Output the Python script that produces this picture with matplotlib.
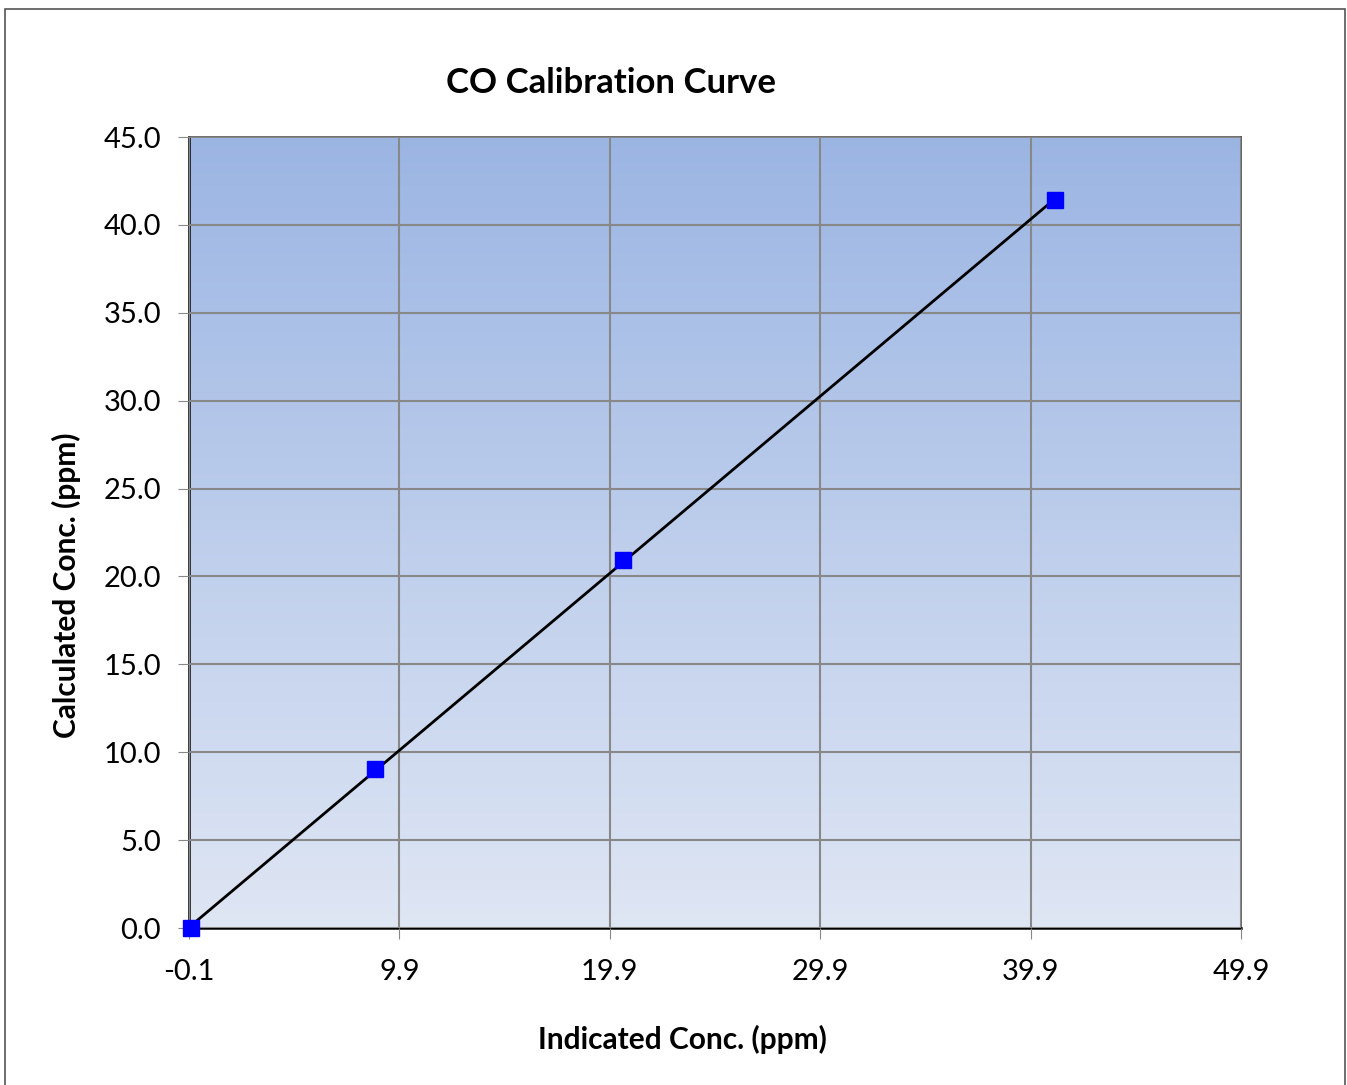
import matplotlib.pyplot as plt
import numpy as np
from matplotlib.colors import LinearSegmentedColormap
from matplotlib.patches import Rectangle

indicated = [0.0, 8.75, 20.55, 41.05]
calculated = [0.0, 9.05, 20.95, 41.4]
x_ticks = [-0.1, 9.9, 19.9, 29.9, 39.9, 49.9]
y_ticks = [0, 5, 10, 15, 20, 25, 30, 35, 40, 45]

plt.rcParams['font.family'] = ['Lato', 'DejaVu Sans']

fig = plt.figure(figsize=(13.47, 10.85), dpi=100)
ax = fig.add_axes([0.1403, 0.1447, 0.781, 0.729])

# outer chart frame
fig.patches.append(Rectangle((5 / 1347, -0.05), 1340 / 1347, 1.05 - 9 / 1085,
                             transform=fig.transFigure, fill=False,
                             edgecolor='#555555', linewidth=1.2))

# gradient fill of plot area
cmap = LinearSegmentedColormap.from_list('bg', ['#dfe6f4', '#9bb5e3'])
grad = np.linspace(0, 1, 256).reshape(-1, 1)
ax.imshow(grad, cmap=cmap, origin='lower', aspect='auto',
          extent=[x_ticks[0], x_ticks[-1], y_ticks[0], y_ticks[-1]], zorder=0)

ax.set_xlim(x_ticks[0], x_ticks[-1])
ax.set_ylim(y_ticks[0], y_ticks[-1])
ax.set_xticks(x_ticks)
ax.set_yticks(y_ticks)
ax.set_xticklabels(['{:.1f}'.format(v) for v in x_ticks])
ax.set_yticklabels(['{:.1f}'.format(v) for v in y_ticks])
ax.grid(True, color='#888888', linewidth=1.5, zorder=1)
ax.set_axisbelow(False)
ax.tick_params(labelsize=21, length=8, color='#888888')
ax.tick_params(axis='x', pad=14)
ax.tick_params(axis='y', pad=12)

# linear trendline
slope, intercept = np.polyfit(indicated, calculated, 1)
x_line = np.array([indicated[0], indicated[-1]])
ax.plot(x_line, slope * x_line + intercept, color='black', linewidth=2, zorder=3)

ax.plot(indicated, calculated, linestyle='none', marker='s', markersize=11,
        color='#0000ff', zorder=4, clip_on=False)

for side in ['top', 'right']:
    ax.spines[side].set_color('#555555')
    ax.spines[side].set_linewidth(1.2)
for side in ['bottom', 'left']:
    ax.spines[side].set_color('black')
    ax.spines[side].set_linewidth(1.8)

fig.text(611 / 1347, 1 - 83 / 1085, 'CO Calibration Curve', ha='center', va='center',
         fontsize=25, fontweight='bold')
fig.text(682 / 1347, 1 - 1039 / 1085, 'Indicated Conc. (ppm)', ha='center', va='center',
         fontsize=21.5, fontweight='bold')
fig.text(66 / 1347, 1 - 585 / 1085, 'Calculated Conc. (ppm)', ha='center', va='center',
         rotation=90, fontsize=21.5, fontweight='bold')

plt.savefig('out.png', dpi=100)
